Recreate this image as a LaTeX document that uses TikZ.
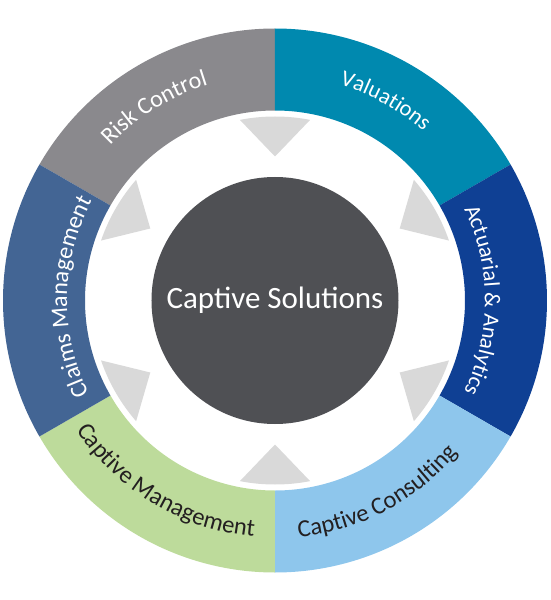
\documentclass[tikz,border=0pt]{standalone}
\usepackage{fontspec}
\usepackage{tikz}
\usetikzlibrary{positioning,decorations.text}

\newfontfamily\ringfont{Carlito}
\definecolor{riskgray}{RGB}{138,137,141}
\definecolor{valteal}{RGB}{0,137,175}
\definecolor{actblue}{RGB}{15,64,148}
\definecolor{conblue}{RGB}{142,198,236}
\definecolor{mangreen}{RGB}{189,219,155}
\definecolor{claimslate}{RGB}{67,101,148}
\definecolor{hubgray}{RGB}{79,80,84}
\definecolor{trigray}{RGB}{217,217,217}
\definecolor{labelink}{RGB}{35,31,32}
\newcommand\lightlbl[1]{\ringfont\fontsize{#1}{#1}\selectfont\color{white}}
\newcommand\darklbl[1]{\ringfont\fontsize{#1}{#1}\selectfont\color{labelink}}

\begin{document}
\begin{tikzpicture}[x=1pt,y=1pt,
        tri/.style={fill=trigray},
        hubnode/.style={circle, fill=hubgray, minimum size=247pt, inner sep=0pt,
            text=white, font=\ringfont\fontsize{31}{31}\selectfont}]
    \useasboundingbox (-275,-299.5) rectangle (275,300.5);
    % ring segments
    \foreach \a/\c in {90/riskgray, 30/valteal, -30/actblue, -90/conblue, -150/mangreen, 150/claimslate}
        \fill[\c] (\a:190pt) arc[start angle=\a, end angle=\a+60, radius=190pt]
            -- ({\a+60}:272pt) arc[start angle=\a+60, end angle=\a, radius=272pt] -- cycle;
    % arrows pointing in
    \foreach \a in {90,30,...,-210}
        \fill[tri] ({\a+11}:184pt) arc[start angle=\a+11, end angle=\a-11, radius=184pt]
            -- (\a:144pt) -- cycle;
    \node[hubnode] (hub) at (0,0) {Captive Solutions};
    % labels
    \path[decorate, decoration={text along path, text align=center,
            text={|\lightlbl{24}|Risk Control}}]
        (152:226pt) arc[start angle=152, end angle=92, radius=226pt];
    \path[decorate, decoration={text along path, text align=center,
            text={|\lightlbl{22.5}|Valuations}}]
        (91:225pt) arc[start angle=91, end angle=31, radius=225pt];
    \path[decorate, decoration={text along path, text align=center,
            text={|\lightlbl{22.5}|Actuarial {\&} Analytics}}]
        (30:210pt) arc[start angle=30, end angle=-30, radius=210pt];
    \path[decorate, decoration={text along path, text align=center,
            text={|\darklbl{24.5}|Captive Consulting}}]
        (-92:238pt) arc[start angle=-92, end angle=-32, radius=238pt];
    \path[decorate, decoration={text along path, text align=center,
            text={|\darklbl{24.5}|Captive Management}}]
        (209:237pt) arc[start angle=209, end angle=269, radius=237pt];
    \path[decorate, decoration={text along path, text align=center,
            text={|\lightlbl{24}|Claims Management}}]
        (209:208pt) arc[start angle=209, end angle=149, radius=208pt];
\end{tikzpicture}
\end{document}
